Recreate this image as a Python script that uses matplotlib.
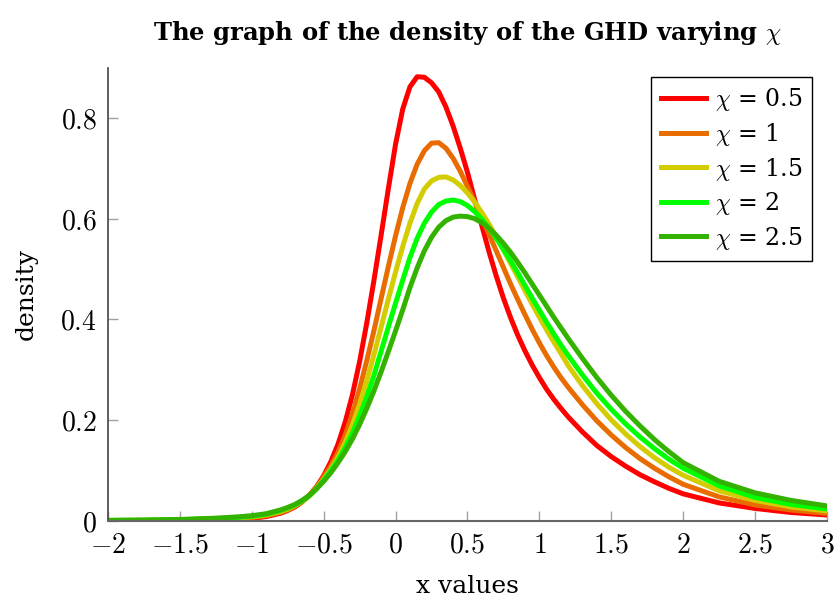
import numpy as np
import matplotlib
matplotlib.use("Agg")
import matplotlib.pyplot as plt
from matplotlib.ticker import FixedLocator, FixedFormatter

# x grid shared by all curves (finer where the densities bend)
x = [-2.0, -1.75, -1.5, -1.25, -1.1, -1.0, -0.9, -0.8, -0.75, -0.7, -0.65,
     -0.6, -0.55, -0.5, -0.45, -0.4, -0.35, -0.3, -0.25, -0.2, -0.15, -0.1, -0.05,
     0.0, 0.05, 0.1, 0.15, 0.2, 0.25, 0.3, 0.35, 0.4, 0.45, 0.5, 0.55, 0.6, 0.65,
     0.7, 0.75, 0.8, 0.85, 0.9, 0.95, 1.0, 1.05, 1.1, 1.15, 1.2,
     1.3, 1.4, 1.5, 1.6, 1.7, 1.8, 1.9, 2.0, 2.25, 2.5, 2.75, 3.0]

# GHD density for each chi
dens_05 = [0.0, 0.0001, 0.0004, 0.0013, 0.0028, 0.0045, 0.0078, 0.0145, 0.020, 0.027, 0.037,
           0.050, 0.067, 0.089, 0.117, 0.152, 0.196, 0.250, 0.316, 0.393, 0.478, 0.568, 0.660,
           0.748, 0.818, 0.862, 0.882, 0.881, 0.870, 0.852, 0.822, 0.784, 0.740, 0.692, 0.638, 0.586, 0.534,
           0.486, 0.442, 0.403, 0.368, 0.337, 0.309, 0.284, 0.261, 0.241, 0.223, 0.206,
           0.176, 0.149, 0.127, 0.108, 0.091, 0.077, 0.064, 0.053, 0.035, 0.024, 0.016, 0.011]
dens_1 = [0.0, 0.0002, 0.0007, 0.002, 0.0038, 0.0058, 0.0095, 0.016, 0.021, 0.028, 0.038,
          0.050, 0.066, 0.086, 0.109, 0.136, 0.170, 0.212, 0.262, 0.318, 0.378, 0.442, 0.505,
          0.566, 0.622, 0.670, 0.708, 0.735, 0.750, 0.751, 0.740, 0.720, 0.694, 0.664, 0.633, 0.601, 0.569,
          0.536, 0.503, 0.470, 0.439, 0.409, 0.380, 0.353, 0.328, 0.305, 0.284, 0.265,
          0.230, 0.198, 0.170, 0.145, 0.123, 0.104, 0.087, 0.072, 0.047, 0.031, 0.021, 0.014]
dens_15 = [0.0001, 0.0004, 0.0012, 0.003, 0.0052, 0.0074, 0.011, 0.018, 0.023, 0.030, 0.038,
           0.049, 0.064, 0.082, 0.102, 0.126, 0.155, 0.190, 0.231, 0.278, 0.330, 0.385, 0.440,
           0.494, 0.545, 0.591, 0.630, 0.659, 0.675, 0.682, 0.683, 0.677, 0.666, 0.651, 0.633, 0.612, 0.589,
           0.564, 0.538, 0.511, 0.484, 0.457, 0.430, 0.404, 0.379, 0.355, 0.332, 0.308,
           0.268, 0.232, 0.200, 0.172, 0.147, 0.125, 0.106, 0.090, 0.059, 0.040, 0.027, 0.019]
dens_2 = [0.0002, 0.0006, 0.0016, 0.0038, 0.0062, 0.0085, 0.0125, 0.020, 0.025, 0.031, 0.039,
          0.049, 0.063, 0.080, 0.099, 0.120, 0.145, 0.174, 0.208, 0.246, 0.289, 0.337, 0.385,
          0.432, 0.478, 0.523, 0.561, 0.591, 0.613, 0.628, 0.635, 0.637, 0.634, 0.626, 0.614, 0.599, 0.581,
          0.561, 0.539, 0.516, 0.492, 0.467, 0.442, 0.418, 0.394, 0.371, 0.349, 0.328,
          0.289, 0.253, 0.221, 0.192, 0.166, 0.143, 0.122, 0.104, 0.069, 0.046, 0.032, 0.023]
dens_25 = [0.0003, 0.0009, 0.0021, 0.0047, 0.0072, 0.0096, 0.0135, 0.021, 0.026, 0.032, 0.040,
           0.050, 0.063, 0.078, 0.095, 0.115, 0.137, 0.162, 0.191, 0.223, 0.258, 0.296, 0.336,
           0.377, 0.419, 0.463, 0.502, 0.536, 0.563, 0.583, 0.596, 0.603, 0.605, 0.604, 0.600, 0.592, 0.581,
           0.567, 0.551, 0.533, 0.513, 0.492, 0.470, 0.448, 0.426, 0.404, 0.383, 0.362,
           0.322, 0.284, 0.249, 0.217, 0.188, 0.161, 0.137, 0.115, 0.078, 0.055, 0.040, 0.029]

labels = [r'$\chi$ = 0.5', r'$\chi$ = 1', r'$\chi$ = 1.5', r'$\chi$ = 2', r'$\chi$ = 2.5']
colors = ['#ff0000', '#e86c00', '#d2cc00', '#00ff00', '#33b300']

xticks = [-2, -1.5, -1, -0.5, 0, 0.5, 1, 1.5, 2, 2.5, 3]
xticklabels = ['$-2$', '$-1.5$', '$-1$', '$-0.5$', '$0$', '$0.5$', '$1$', '$1.5$', '$2$', '$2.5$', '$3$']
yticks = [0, 0.2, 0.4, 0.6, 0.8]
yticklabels = ['$0$', '$0.2$', '$0.4$', '$0.6$', '$0.8$']

plt.rcParams['font.family'] = 'DejaVu Serif'
plt.rcParams['mathtext.fontset'] = 'cm'
plt.rcParams['font.size'] = 18

fig = plt.figure(figsize=(8.35, 5.97), dpi=100)
ax = fig.add_axes([0.1293, 0.1281, 0.8611, 0.7585])

for d, c, lab in zip([dens_05, dens_1, dens_15, dens_2, dens_25], colors, labels):
    ax.plot(x, d, color=c, lw=3.6, label=lab, solid_joinstyle='round')

ax.set_xlim(-2, 3)
ax.set_ylim(0, 0.9)
ax.xaxis.set_major_locator(FixedLocator(xticks))
ax.xaxis.set_major_formatter(FixedFormatter(xticklabels))
ax.yaxis.set_major_locator(FixedLocator(yticks))
ax.yaxis.set_major_formatter(FixedFormatter(yticklabels))
ax.tick_params(direction='in', length=7, width=1, color='#a0a0a0', pad=8, labelsize=20)

for s in ['top', 'right']:
    ax.spines[s].set_visible(False)
ax.spines['left'].set_color('#444444')
ax.spines['bottom'].set_color('#666666')
ax.spines['left'].set_linewidth(1.2)
ax.spines['bottom'].set_linewidth(1.5)

ax.set_xlabel('x values', fontsize=18, labelpad=12)
ax.set_ylabel('density', fontsize=18, labelpad=16)
ax.set_title(r'The graph of the density of the GHD varying $\chi$',
             fontsize=17.5, fontweight='bold', pad=20)

leg = ax.legend(loc='upper right', bbox_to_anchor=(0.9725, 0.871),
                bbox_transform=fig.transFigure, borderaxespad=0,
                fancybox=False, framealpha=1, edgecolor='black',
                handlelength=1.9, handletextpad=0.4, labelspacing=0.32,
                borderpad=0.4, fontsize=17)
leg.get_frame().set_linewidth(1.0)

fig.savefig('out.png', dpi=100)
